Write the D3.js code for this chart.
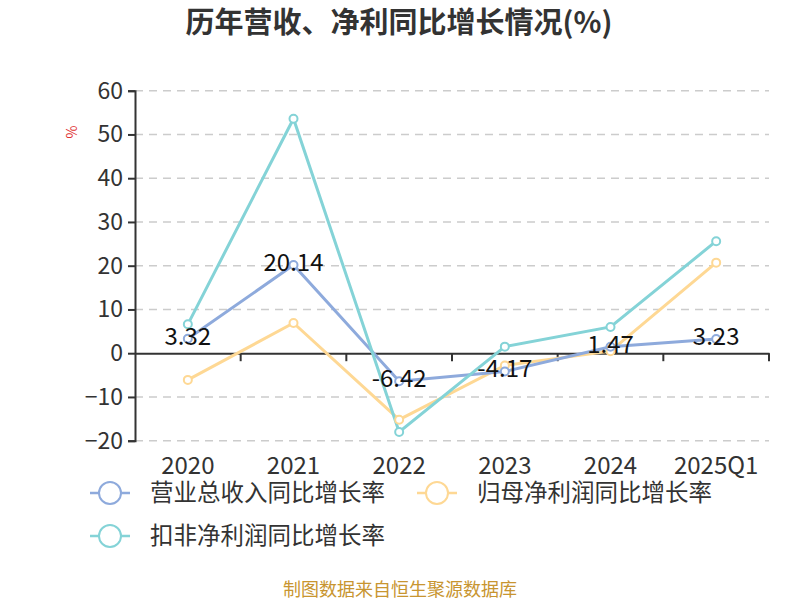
<!DOCTYPE html>
<html><head><meta charset="utf-8">
<script src="https://cdn.jsdelivr.net/npm/d3@7/dist/d3.min.js"></script>
<style>body{margin:0;background:#fff}svg{display:block;font-family:"Noto Sans CJK SC","Noto Sans",sans-serif}</style>
</head><body>
<svg id="c" width="800" height="600"></svg>
<script>
const categories = ["2020","2021","2022","2023","2024","2025Q1"];
const revenue = [3.32, 20.14, -6.42, -4.17, 1.47, 3.23];
const netProfit = [-6.1, 6.9, -15.2, -2.8, 0.46, 20.7];
const deducted = [6.6, 53.6, -18.0, 1.5, 6.0, 25.6];
const yTicks = [-20,-10,0,10,20,30,40,50,60];
const seriesNames = ["营业总收入同比增长率","归母净利润同比增长率","扣非净利润同比增长率"];
const colors = ["#8eaadc","#fed894","#84d3d7"];

const svg = d3.select("#c");
const x = d3.scaleBand().domain(categories).range([135,769]);
const y = d3.scaleLinear().domain([-20,60]).range([440.7,90.7]);

svg.append("text").attr("x",399).attr("y",33).attr("text-anchor","middle")
  .attr("font-size",29).attr("font-weight","bold").attr("fill","#333")
  .text("历年营收、净利同比增长情况(%)");

// grid
svg.append("g").selectAll("line").data(yTicks.filter(d=>d!==0)).join("line")
  .attr("x1",135).attr("x2",769).attr("y1",d=>y(d)).attr("y2",d=>y(d))
  .attr("stroke","#ccc").attr("stroke-width",1.5).attr("stroke-dasharray","8,6");

// y axis
const ya = svg.append("g").attr("transform","translate(135,0)")
  .call(d3.axisLeft(y).tickValues(yTicks).tickSize(7).tickPadding(5));
ya.select(".domain").attr("stroke","#333").attr("stroke-width",2);
ya.selectAll(".tick line").attr("stroke","#333").attr("stroke-width",2);
ya.selectAll(".tick text").attr("font-size",23).attr("fill","#333").attr("font-family","'Noto Sans CJK SC',sans-serif");

svg.append("text").attr("transform","translate(77,132) rotate(-90)")
  .attr("text-anchor","middle").attr("font-size",14).attr("fill","#e03030").text("%");

// x axis at zero
const xa = svg.append("g").attr("transform",`translate(0,${y(0)})`)
  .call(d3.axisBottom(x).tickSize(0).tickFormat(""));
xa.select(".domain").attr("stroke","#333").attr("stroke-width",2);
const bounds = categories.map(c=>x(c)).concat([x.range()[1]]);
svg.append("g").selectAll("line").data(bounds.slice(1)).join("line")
  .attr("x1",d=>d).attr("x2",d=>d).attr("y1",y(0)).attr("y2",y(0)+8)
  .attr("stroke","#333").attr("stroke-width",2);
svg.append("g").selectAll("text").data(categories).join("text")
  .attr("x",d=>x(d)+x.bandwidth()/2).attr("y",474).attr("text-anchor","middle")
  .attr("font-size",24).attr("fill","#333").text(d=>d);

const cx = d => x(d)+x.bandwidth()/2;
const line = d3.line().x((d,i)=>cx(categories[i])).y(d=>y(d));
const all = [revenue, netProfit, deducted];
const order = [1,0,2];
order.forEach(k=>{
  const s = all[k];
  svg.append("path").datum(s).attr("d",line).attr("fill","none")
    .attr("stroke",colors[k]).attr("stroke-width",3);
});
order.forEach(k=>{
  const s = all[k];
  svg.append("g").selectAll("circle").data(s).join("circle")
    .attr("cx",(d,i)=>cx(categories[i])).attr("cy",d=>y(d)).attr("r",4)
    .attr("fill","#fff").attr("stroke",colors[k]).attr("stroke-width",2);
});
svg.append("g").selectAll("text").data(revenue).join("text")
  .attr("x",(d,i)=>cx(categories[i])).attr("y",d=>y(d)+6)
  .attr("text-anchor","middle").attr("font-size",24).attr("fill","#111")
  .text(d=>d.toFixed(2));

// legend
const leg = [{x:90,y:493},{x:417,y:493},{x:90,y:536}];
seriesNames.forEach((n,k)=>{
  const g = svg.append("g").attr("transform",`translate(${leg[k].x},${leg[k].y})`);
  g.append("line").attr("x1",0).attr("x2",40).attr("stroke",colors[k]).attr("stroke-width",2.5);
  g.append("circle").attr("cx",20).attr("r",11).attr("fill","#fff").attr("stroke",colors[k]).attr("stroke-width",2);
  g.append("text").attr("x",60).attr("y",8).attr("font-size",23.5).attr("fill","#333").text(n);
});

svg.append("text").attr("x",400).attr("y",596).attr("text-anchor","middle")
  .attr("font-size",18).attr("fill","#c89530").text("制图数据来自恒生聚源数据库");
</script>
</body></html>
